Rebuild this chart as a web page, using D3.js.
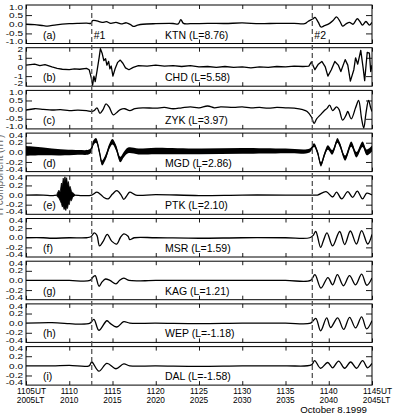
<!DOCTYPE html>
<html>
<head>
<meta charset="utf-8">
<script src="https://cdn.jsdelivr.net/npm/d3@7"></script>
<style>
  body { margin: 0; background: #fff; }
  svg { display: block; font-family: "Liberation Sans", Arial, sans-serif; }
</style>
</head>
<body>
<svg id="chart" width="394" height="415"></svg>
<script>
// time in minutes after 1105 UT, values in nT
var stations = ['KTN (L=8.76)', 'CHD (L=5.58)', 'ZYK (L=3.97)', 'MGD (L=2.86)', 'PTK (L=2.10)',
                'MSR (L=1.59)', 'KAG (L=1.21)', 'WEP (L=-1.18)', 'DAL (L=-1.58)'];
var panelTags = ['(a)', '(b)', '(c)', '(d)', '(e)', '(f)', '(g)', '(h)', '(i)'];
var yRanges = [1.05, 2.1, 1.05, 0.4, 0.4, 0.4, 0.4, 0.4, 0.4];
var yTickSets = [
  [1.0, 0.5, 0.0, -0.5, -1.0],
  [2, 1, 0, -1, -2],
  [1.0, 0.5, 0.0, -0.5, -1.0],
  [0.4, 0.2, 0.0, -0.2, -0.4],
  [0.4, 0.2, 0.0, -0.2, -0.4],
  [0.4, 0.2, 0.0, -0.2, -0.4],
  [0.4, 0.2, 0.0, -0.2, -0.4],
  [0.4, 0.2, 0.0, -0.2, -0.4],
  [0.4, 0.2, 0.0, -0.2, -0.4]
];
var ytickFormats = ['.1f', 'd', '.1f', '.1f', '.1f', '.1f', '.1f', '.1f', '.1f'];

var ktn = [[0,0.0],[1,-0.02],[2,-0.08],[2.5,-0.1],[3.5,-0.03],[5,0.03],[6,0.05],[7,0.06],[7.5,0.05],[7.7,0.2],[8.2,0.18],
  [8.8,0.1],[9.3,0.14],[9.8,0.05],[10.4,0.1],[11,0.02],[11.6,0.08],[12.1,-0.02],[12.4,-0.12],[12.9,-0.05],[13.5,0.0],
  [15,0.03],[17,0.04],[17.6,0.02],[17.9,0.25],[18.2,0.05],[19,0.03],[21,0.05],[23,0.04],[25,0.07],[27,0.03],[29,0.05],
  [31,0.05],[32.2,0.03],[32.6,0.15],[33.2,0.3],[33.4,0.37],[33.8,0.1],[34.1,-0.15],[34.5,-0.08],[35.1,0.05],[35.5,0.2],
  [35.9,0.4],[36.3,0.15],[36.6,-0.1],[37,0.02],[37.4,0.1],[37.8,0.0],[38.3,0.3],[38.6,0.15],[38.9,-0.05],[39.3,0.15],
  [39.7,-0.05],[40,0.1]];
var chd = [[0,0.2],[0.5,0.25],[1,0.3],[1.6,0.15],[2.2,0.25],[3,0.0],[3.6,-0.15],[4.2,-0.25],[5,-0.3],[5.6,-0.2],[6.2,-0.25],
  [7,-0.15],[7.3,-0.3],[7.55,-1.2],[7.7,-2.0],[7.85,-1.0],[8.0,-1.6],[8.2,-0.5],[8.45,1.0],[8.6,2.0],[8.8,1.5],[9.0,0.7],
  [9.2,0.9],[9.35,0.2],[9.55,0.6],[9.7,-0.2],[9.85,0.1],[10.05,-1.0],[10.3,-0.2],[10.6,0.5],[10.9,0.75],[11.2,0.4],
  [11.5,-0.1],[11.9,-0.3],[12.4,-0.05],[13,0.15],[14,0.1],[15,0.2],[16,0.1],[17,0.15],[18,0.05],[19,0.15],[20,0.0],
  [21,0.05],[22,-0.05],[23,0.05],[24,-0.05],[25,0.0],[26,-0.1],[27,0.0],[28,-0.05],[29,0.05],[30,0.0],[31,0.1],[32,0.05],
  [32.7,0.1],[33.0,0.55],[33.4,-0.3],[33.8,0.3],[34.2,0.6],[34.6,0.0],[34.9,-1.0],[35.3,-0.3],[35.7,0.6],[36.1,0.2],
  [36.4,-0.5],[36.9,0.8],[37.2,0.2],[37.5,-1.55],[37.9,-0.3],[38.1,1.0],[38.35,0.3],[38.7,1.8],[39.0,-0.3],[39.15,-1.5],
  [39.45,1.6],[39.7,1.5],[39.85,-0.5],[40,0.2]];
var zyk = [[0,-0.02],[1,0.05],[2,0.02],[3,-0.02],[4,0.0],[5,-0.05],[6,-0.03],[7,-0.05],[7.6,-0.1],[7.9,-0.05],[8.2,0.1],
  [8.55,-0.2],[8.9,0.0],[9.25,0.32],[9.6,0.15],[10.1,-0.28],[10.5,-0.15],[10.9,0.0],[11.4,0.05],[12,-0.05],[12.6,0.05],
  [13.5,0.1],[15,0.08],[16,0.12],[17,0.05],[18,0.1],[19,0.15],[20,0.1],[21,0.2],[21.8,0.1],[22.5,0.15],[24,0.12],
  [25,0.15],[26,0.1],[27,0.12],[28,0.08],[29,0.12],[30,0.1],[31,0.08],[32,0.0],[32.5,-0.1],[33.0,-0.4],[33.3,-0.75],
  [33.6,-0.5],[34.0,-0.3],[34.5,-0.05],[34.8,0.07],[35.1,0.25],[35.45,-0.05],[35.9,0.15],[36.2,0.0],[36.6,-0.57],
  [37.0,-0.3],[37.2,-0.1],[37.6,-0.5],[38.1,0.1],[38.45,0.5],[38.8,-0.5],[39.05,-1.0],[39.3,-0.2],[39.6,0.5],
  [39.85,0.1],[40,-0.1]];
var mgd = [[0,0.03],[2,0.02],[4,0.0],[6,0.0],[7.4,0.02],[7.8,0.2],[8.1,0.25],[8.5,0.0],[8.8,-0.22],[9.2,-0.1],[9.7,0.15],
  [10.0,0.22],[10.4,0.1],[10.9,-0.15],[11.3,-0.05],[11.8,0.04],[13,0.02],[15,0.03],[20,0.02],[25,0.03],[30,0.03],
  [32.8,0.04],[33.3,0.15],[33.7,0.0],[34.1,-0.25],[34.5,-0.05],[34.9,0.1],[35.4,0.0],[36.0,0.25],[36.3,0.15],
  [36.9,-0.12],[37.6,0.17],[38.2,-0.05],[38.9,0.17],[39.4,0.0],[40,0.08]];
var mgdSpread = [[0,0.1],[3,0.07],[6,0.05],[8,0.05],[12,0.06],[16,0.07],[20,0.06],[25,0.06],[30,0.05],[33,0.04],
  [36,0.05],[40,0.06]];
var ptk = [[0,0.0],[2,0.0],[3,-0.01],[3.6,0.0],[5.6,0.0],[6.5,-0.01],[7.6,0.0],[8.2,0.06],[8.7,0.0],[9.0,-0.05],
  [9.5,-0.08],[10.0,0.02],[10.5,0.09],[11.0,0.0],[11.3,-0.09],[11.7,0.0],[12.0,0.06],[12.7,0.0],[15,0.01],[20,-0.01],
  [25,0.0],[30,0.0],[33,0.0],[33.7,0.0],[34.7,0.07],[35.45,-0.04],[35.9,0.06],[36.5,-0.08],[37.2,0.07],[37.76,-0.05],
  [38.3,0.08],[38.9,-0.08],[39.4,0.04],[40,0.0]];
// upper and lower envelope of the short PTK burst
var ptkBurst = [[3.6,0.03,-0.03],[3.8,0.1,-0.06],[3.95,0.06,-0.12],[4.1,0.25,-0.18],[4.2,0.18,-0.25],[4.3,0.35,-0.22],
  [4.4,0.28,-0.3],[4.5,0.38,-0.27],[4.6,0.3,-0.32],[4.7,0.36,-0.25],[4.8,0.22,-0.28],[4.9,0.28,-0.18],[5.0,0.15,-0.2],
  [5.1,0.18,-0.1],[5.25,0.08,-0.12],[5.4,0.05,-0.04],[5.6,0.02,-0.02]];
var msr = [[0,0.0],[2,0.0],[3,-0.01],[5,0.0],[7,0.0],[7.5,0.02],[7.9,0.1],[8.2,0.05],[8.5,-0.17],[8.9,-0.08],[9.4,0.07],
  [9.9,-0.07],[10.5,-0.13],[10.9,0.0],[11.3,0.08],[11.8,0.03],[12.0,-0.04],[12.5,0.0],[15,0.0],[20,-0.01],[25,0.0],
  [30,0.0],[32.8,0.0],[33.2,0.05],[33.5,0.13],[34.06,-0.2],[34.4,-0.05],[34.8,0.1],[35.45,-0.17],[36.26,0.13],
  [36.84,-0.14],[37.5,0.14],[38.2,-0.13],[38.8,0.15],[39.5,-0.13],[40,0.07]];
var kag = [[0,0.0],[3,0.0],[5,0.0],[7.4,0.0],[7.8,0.08],[8.0,0.1],[8.45,-0.12],[8.8,-0.03],[9.2,0.03],[9.7,0.0],
  [10.4,-0.07],[10.8,0.0],[11.3,0.05],[11.9,0.0],[15,0.0],[20,0.0],[25,0.0],[30,0.0],[32.9,0.0],[33.4,0.12],
  [34.1,-0.16],[34.9,0.06],[35.45,-0.09],[36.0,0.12],[36.7,-0.11],[37.4,0.1],[38.1,-0.09],[38.8,0.13],[39.4,-0.1],
  [40,0.05]];
var wep = [[0,0.0],[3,0.01],[5,-0.01],[6,-0.02],[7.4,0.0],[7.85,0.08],[8.43,-0.15],[9.35,0.05],[9.7,0.0],[10.5,-0.08],
  [11.3,0.03],[12,0.0],[15,0.0],[20,-0.01],[25,0.0],[30,0.0],[32.9,0.0],[33.5,0.1],[34.06,-0.16],[34.76,0.11],
  [35.22,-0.09],[36.03,0.11],[36.72,-0.13],[37.41,0.12],[38.1,-0.1],[38.8,0.13],[39.38,-0.12],[40,0.05]];
var dal = [[0,0.0],[3,0.0],[5,0.01],[7.3,0.0],[7.6,0.08],[8.43,-0.11],[9.35,0.05],[10.4,-0.06],[11.3,0.04],[12,0.0],
  [15,0.0],[20,-0.01],[25,0.0],[30,0.0],[33.0,0.02],[33.37,0.11],[34.06,-0.05],[34.87,0.07],[35.45,-0.04],[36.14,0.1],
  [36.84,-0.05],[37.53,0.08],[38.22,-0.05],[38.91,0.11],[39.49,-0.04],[40,0.05]];
var series = [ktn, chd, zyk, mgd, ptk, msr, kag, wep, dal];

var xTicks = [0, 5, 10, 15, 20, 25, 30, 35, 40];
var utLabels = ['1105', '1110', '1115', '1120', '1125', '1130', '1135', '1140', '1145'];
var ltLabels = ['2005', '2010', '2015', '2020', '2025', '2030', '2035', '2040', '2045'];
var events = [[7.6, '#1'], [33.1, '#2']];

var left = 26, right = 372, top0 = 5, pitch = 42.7, ph = 38.5;
var svg = d3.select('#chart');
var x = d3.scaleLinear().domain([0, 40]).range([left, right]);

// y axis title, almost all of it cut off at the left edge
svg.append('text')
  .attr('transform', 'translate(3,175) rotate(-90)')
  .attr('text-anchor', 'middle')
  .style('font-size', '10px')
  .attr('fill', '#666')
  .text('H component (nT)');

function ticksIn(g, axis, tr) {
  var a = g.append('g').attr('transform', tr).call(axis);
  a.selectAll('text').remove();
  a.select('.domain').remove();
  a.selectAll('line').attr('stroke', '#000').attr('stroke-width', 0.9);
}

series.forEach(function (data, i) {
  var pTop = top0 + pitch * i;
  var y = d3.scaleLinear().domain([-yRanges[i], yRanges[i]]).range([pTop + ph, pTop]);
  var g = svg.append('g');

  g.append('clipPath').attr('id', 'clip' + i)
    .append('rect').attr('x', left).attr('y', pTop).attr('width', right - left).attr('height', ph);

  var plot = g.append('g').attr('clip-path', 'url(#clip' + i + ')');
  var curve = (i == 1) ? d3.curveLinear : d3.curveCatmullRom.alpha(0.5);
  if (i == 3) {
    // noisy band around the MGD trace
    var sp = d3.scaleLinear().domain(mgdSpread.map(function (d) { return d[0]; }))
      .range(mgdSpread.map(function (d) { return d[1]; }));
    plot.append('path')
      .datum(mgd)
      .attr('fill', '#000')
      .attr('d', d3.area().curve(curve)
        .x(function (d) { return x(d[0]); })
        .y0(function (d) { return y(d[1] - sp(d[0])); })
        .y1(function (d) { return y(d[1] + sp(d[0])); }));
  }
  if (i == 4) {
    plot.append('path')
      .datum(ptkBurst)
      .attr('fill', '#000')
      .attr('stroke', '#000')
      .attr('stroke-width', 0.8)
      .attr('d', d3.area()
        .x(function (d) { return x(d[0]); })
        .y0(function (d) { return y(d[2]); })
        .y1(function (d) { return y(d[1]); }));
  }
  plot.append('path')
    .datum(data)
    .attr('fill', 'none')
    .attr('stroke', '#000')
    .attr('stroke-width', 1.3)
    .attr('stroke-linejoin', 'round')
    .attr('d', d3.line().curve(curve)
      .x(function (d) { return x(d[0]); })
      .y(function (d) { return y(d[1]); }));

  // inward ticks on all four sides
  ticksIn(g, d3.axisTop(x).tickValues(xTicks).tickSize(4), 'translate(0,' + (pTop + ph) + ')');
  ticksIn(g, d3.axisBottom(x).tickValues(xTicks).tickSize(4), 'translate(0,' + pTop + ')');
  var halfTicks = [yTickSets[i][1], yTickSets[i][3]];
  ticksIn(g, d3.axisRight(y).tickValues(halfTicks).tickSize(6), 'translate(' + left + ',0)');
  ticksIn(g, d3.axisLeft(y).tickValues(halfTicks).tickSize(6), 'translate(' + right + ',0)');

  // y tick labels: wide and flat, end labels held just inside the frame
  var fmt = d3.format(ytickFormats[i]);
  g.selectAll('.ylab').data(yTickSets[i]).enter().append('text')
    .attr('transform', function (d) {
      var yy = Math.max(pTop + 2, Math.min(pTop + ph - 2.5, y(d)));
      return 'translate(' + (left - 3) + ',' + yy + ') scale(1,0.74)';
    })
    .attr('dy', '0.36em')
    .attr('text-anchor', 'end')
    .style('font-size', '10px')
    .text(function (d) { return fmt(d).replace('\u2212', '-'); });

  // frame
  g.append('rect')
    .attr('x', left).attr('y', pTop).attr('width', right - left).attr('height', ph)
    .attr('fill', 'none').attr('stroke', '#000').attr('stroke-width', 1);

  g.append('text').attr('x', 43).attr('y', pTop + ph - 5)
    .style('font-size', '10.5px').text(panelTags[i]);
  g.append('text').attr('x', 165).attr('y', pTop + ph - 5)
    .style('font-size', '10.5px').text(stations[i]);
});

var bottom = top0 + pitch * (series.length - 1) + ph;

// event lines
svg.selectAll('.ev').data(events).enter().append('line')
  .attr('x1', function (d) { return x(d[0]); })
  .attr('x2', function (d) { return x(d[0]); })
  .attr('y1', top0)
  .attr('y2', bottom)
  .attr('stroke', '#555')
  .attr('stroke-width', 1.3)
  .attr('stroke-dasharray', '5,3');
svg.selectAll('.evlab').data(events).enter().append('text')
  .attr('x', function (d) { return x(d[0]) + 2; })
  .attr('y', top0 + ph - 5)
  .style('font-size', '10.5px')
  .text(function (d) { return d[1]; });

// time axis labels, number centred on the tick
xTicks.forEach(function (t, k) {
  var edge = (k == 0 || k == xTicks.length - 1);
  var t1 = svg.append('text').attr('y', bottom + 8.5).style('font-size', '8.3px');
  t1.append('tspan').text(utLabels[k]);
  var t2 = svg.append('text').attr('y', bottom + 17.5).style('font-size', '8.3px');
  t2.append('tspan').text(ltLabels[k]);
  var w1 = t1.node().getComputedTextLength();
  var w2 = t2.node().getComputedTextLength();
  t1.attr('x', x(t) - w1 / 2);
  t2.attr('x', x(t) - w2 / 2);
  if (edge) {
    t1.append('tspan').text('UT');
    t2.append('tspan').text('LT');
  }
});

svg.append('text')
  .attr('x', 367).attr('y', bottom + 27.5)
  .attr('text-anchor', 'end')
  .style('font-size', '9.7px')
  .text('October 8.1999');
</script>
</body>
</html>
